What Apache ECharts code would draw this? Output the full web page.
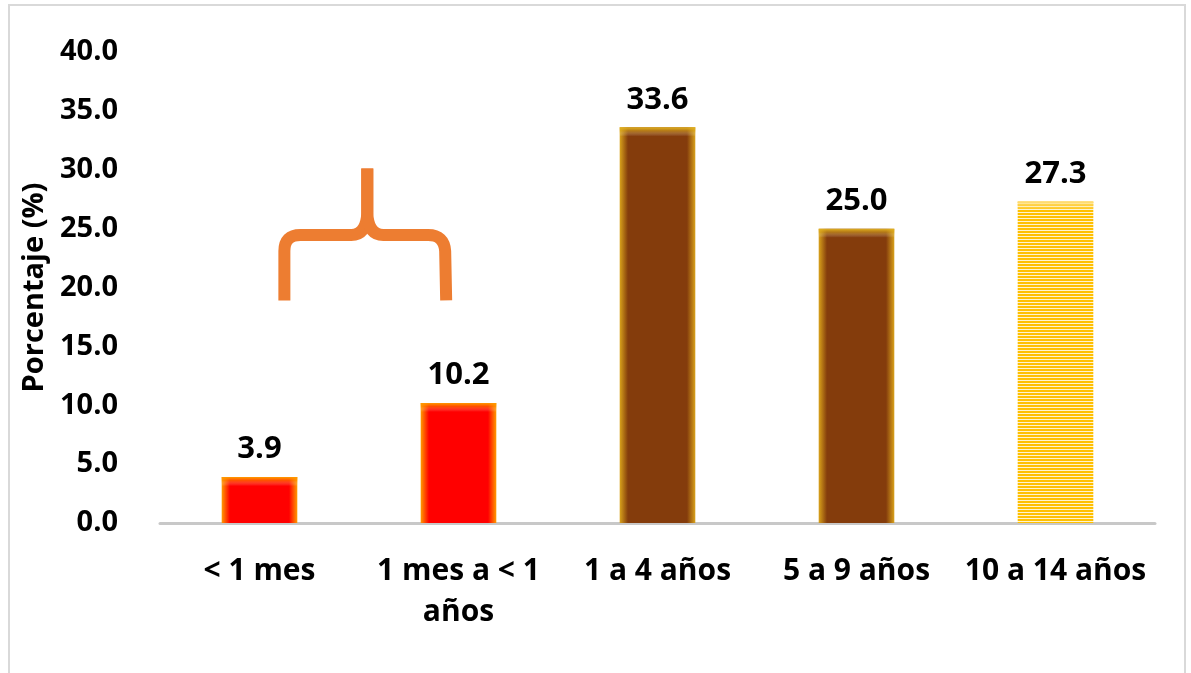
<!DOCTYPE html>
<html>
<head>
<meta charset="utf-8">
<script src="https://cdn.jsdelivr.net/npm/echarts@6/dist/echarts.min.js"></script>
<style>
html,body{margin:0;padding:0;background:#fff;}
#chart{width:1191px;height:673px;}
</style>
</head>
<body>
<div id="chart"></div>
<script>
const categories = ['< 1 mes', '1 mes a < 1\naños', '1 a 4 años', '5 a 9 años', '10 a 14 años'];
const values = [3.9, 10.2, 33.6, 25.0, 27.3];
const barKinds = ['red', 'red', 'brown', 'brown', 'yellow'];
const yTicks = [0, 5, 10, 15, 20, 25, 30, 35, 40];
// brace annotation over the first two groups: [bottom, horizontal, top] in axis units
const braceLevels = [18.9, 24.45, 30.1];

const FONT = 'Open Sans';

function hGrad(edge, center) {
  return {type:'linear', x:0, y:0, x2:1, y2:0, colorStops:[
    {offset:0, color:edge},{offset:0.11, color:center},{offset:0.89, color:center},{offset:1, color:edge}]};
}
function stripePattern() {
  const c = document.createElement('canvas');
  c.width = 4; c.height = 3;
  const ctx = c.getContext('2d');
  ctx.fillStyle = '#FFF3CC'; ctx.fillRect(0,0,4,3);
  ctx.fillStyle = '#FFC000'; ctx.fillRect(0,0,4,2);
  return {image:c, repeat:'repeat'};
}
const styles = {
  red: {color: hGrad('#FF9A00', '#FF0000'), top:'#FF9A00'},
  brown: {color: hGrad('#D9A21B', '#843C0C'), top:'#E0B020'},
  yellow: {color: stripePattern(), top:'#FFE080'}
};

const chart = echarts.init(document.getElementById('chart'), null, {renderer:'canvas'});

const baseData = values.map((v,i)=>({value:v, itemStyle:{color:styles[barKinds[i]].color}}));

function renderBrace(params, api) {
  if (params.dataIndex !== 0) return null;
  const band = api.size([1,0])[0];
  const c0 = api.coord([0, 0])[0];
  const c1 = api.coord([1, 0])[0];
  const xL = c0 + 0.125*band, xR = c1 - 0.072*band, xT = (xL+xR)/2 + 3;
  const yB = api.coord([0, braceLevels[0]])[1];
  const yH = api.coord([0, braceLevels[1]])[1];
  const yT = api.coord([0, braceLevels[2]])[1];
  const r = 16;
  const leftPath = `M${xL} ${yB} L${xL} ${yH+r} Q${xL} ${yH} ${xL+r} ${yH} L${xT-16} ${yH} Q${xT-1} ${yH} ${xT} ${yH-22} L${xT} ${yT}`;
  const rightPath = `M${xT} ${yT} L${xT} ${yH-22} Q${xT+1} ${yH} ${xT+16} ${yH} L${xR-r} ${yH} Q${xR} ${yH} ${xR+1} ${yH+r} L${xR+2} ${yB}`;
  const st = {fill:null, stroke:'#ED7D31', lineWidth:12, lineJoin:'round'};
  return {type:'group', children:[
    {type:'path', shape:{pathData:leftPath}, style:st},
    {type:'path', shape:{pathData:rightPath}, style:st}
  ]};
}

chart.setOption({
  animation:false,
  backgroundColor:'#fff',
  grid:{left:160, right:36, top:52, bottom:150},
  xAxis:{
    type:'category', data:categories,
    axisLine:{lineStyle:{color:'#C8C8C8', width:3}},
    axisTick:{show:false},
    axisLabel:{color:'#000', fontFamily:FONT, fontWeight:'bold', fontSize:30, margin:28, lineHeight:41, interval:0}
  },
  yAxis:{
    type:'value', min:0, max:40, interval:5,
    name:'Porcentaje (%)', nameLocation:'middle', nameGap:104,
    nameTextStyle:{color:'#000', fontFamily:FONT, fontWeight:'bold', fontSize:29},
    axisLine:{show:false}, axisTick:{show:false}, splitLine:{show:false},
    axisLabel:{color:'#000', fontFamily:FONT, fontWeight:'bold', fontSize:29, margin:42,
      formatter:v=>v.toFixed(1)}
  },
  graphic:[
    {type:'rect', shape:{x:9, y:5, width:1176, height:690}, style:{fill:null, stroke:'#D9D9D9', lineWidth:2}, silent:true, z:-1}
  ],
  series:[{
    type:'bar', data:baseData, barWidth:'38%',
    label:{show:true, position:'top', distance:12, color:'#000', fontFamily:FONT, fontWeight:'bold', fontSize:31,
      formatter:p=>p.value.toFixed(1)}
  }, {
    type:'custom', renderItem:renderBrace, data:[[0,0]], z:10, silent:true
  }]
});

// soft top glow overlay, computed from the axis scale
const y0 = chart.convertToPixel({yAxisIndex:0}, 0);
const pxPerUnit = y0 - chart.convertToPixel({yAxisIndex:0}, 1);
const glowData = values.map((v,i)=>{
  const f = Math.min(0.5, 9/(v*pxPerUnit));
  const c = styles[barKinds[i]].top;
  return {value:v, itemStyle:{color:{type:'linear',x:0,y:0,x2:0,y2:1,colorStops:[
    {offset:0,color:c},{offset:f*0.4,color:echarts.color.modifyAlpha(c,0.5)},{offset:f,color:'rgba(255,255,255,0)'},{offset:1,color:'rgba(255,255,255,0)'}]}}};
});
chart.setOption({
  series:[{}, {}, {type:'bar', data:glowData, barWidth:'38%', barGap:'-100%', silent:true, z:3}]
});
</script>
</body>
</html>
